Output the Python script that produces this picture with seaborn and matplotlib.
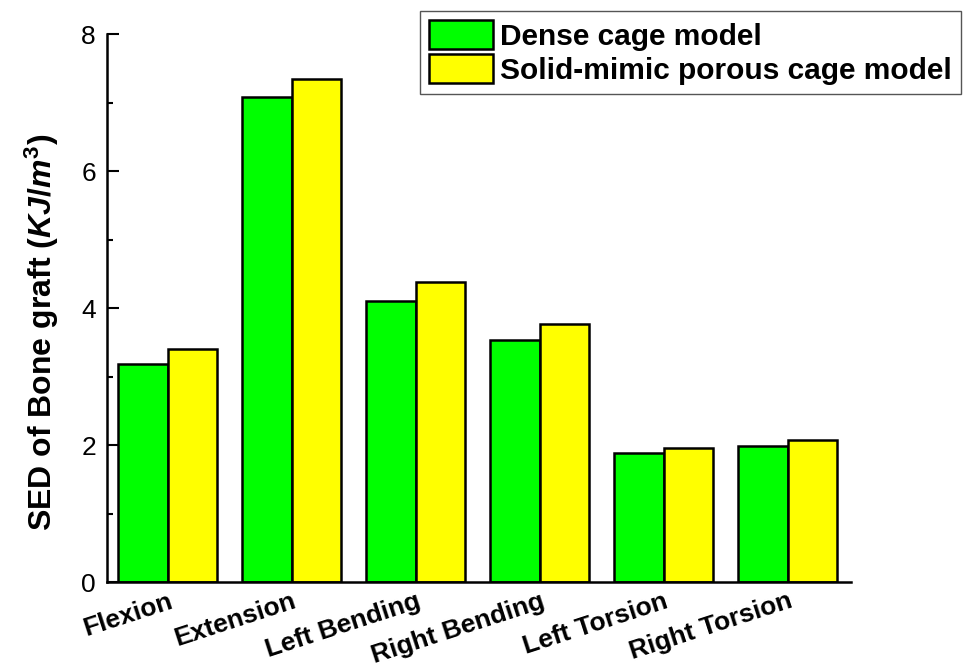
import numpy as np
import pandas as pd
import seaborn as sns
import matplotlib.pyplot as plt
from matplotlib.ticker import MultipleLocator

# values
motions = ['Flexion', 'Extension', 'Left Bending', 'Right Bending', 'Left Torsion', 'Right Torsion']
dense = [3.18, 7.08, 4.10, 3.54, 1.89, 1.99]
porous = [3.40, 7.34, 4.38, 3.76, 1.95, 2.07]
models = ['Dense cage model', 'Solid-mimic porous cage model']

df = pd.DataFrame({
    'motion': motions * 2,
    'sed': dense + porous,
    'model': [models[0]] * len(motions) + [models[1]] * len(motions),
})

sns.set_style('ticks')
plt.rcParams['font.family'] = ['Liberation Sans', 'DejaVu Sans']
plt.rcParams['text.color'] = 'black'
plt.rcParams['axes.labelcolor'] = 'black'
plt.rcParams['xtick.color'] = 'black'
plt.rcParams['ytick.color'] = 'black'
plt.rcParams['mathtext.fontset'] = 'custom'
plt.rcParams['mathtext.rm'] = 'Liberation Sans:bold'
plt.rcParams['mathtext.it'] = 'Liberation Sans:italic:bold'
plt.rcParams['mathtext.bf'] = 'Liberation Sans:bold'

fig = plt.figure(figsize=(9.67, 6.67), dpi=100)
ax = fig.add_axes([0.1107, 0.1274, 0.7694, 0.8216])

sns.barplot(data=df, x='motion', y='sed', hue='model', order=motions, hue_order=models,
            palette=['#00ff00', '#ffff00'], saturation=1, edgecolor='black', linewidth=1.8,
            width=0.8, ax=ax)

ax.set_xlim(-0.49, 5.51)
ax.set_ylim(0, 8)
ax.yaxis.set_major_locator(MultipleLocator(2))
ax.yaxis.set_minor_locator(MultipleLocator(1))
ax.tick_params(axis='y', which='major', direction='in', length=8.5, width=1.5, labelsize=19, pad=8)
ax.tick_params(axis='y', which='minor', direction='in', length=4.5, width=1.5)
ax.tick_params(axis='x', length=0, pad=5)
for lab in ax.get_xticklabels():
    lab.set_rotation(18)
    lab.set_ha('right')
    lab.set_rotation_mode('anchor')
    lab.set_fontweight('bold')
    lab.set_fontsize(19)

sns.despine(ax=ax)
for s in ['left', 'bottom']:
    ax.spines[s].set_linewidth(1.8)
    ax.spines[s].set_color('black')

ax.set_xlabel('')
ax.set_ylabel(r'SED of Bone graft ($KJ/m^3$)', fontsize=23, fontweight='bold')
ax.yaxis.set_label_coords(-0.062, 0.455)

ax.legend(loc='upper right', bbox_to_anchor=(961 / 967, 1 - 11 / 667),
          bbox_transform=fig.transFigure, frameon=True, fancybox=False,
          edgecolor='#555555', framealpha=1, prop={'weight': 'bold', 'size': 21.5},
          handlelength=2.15, handleheight=1.12, handletextpad=0.25,
          labelspacing=0.12, borderpad=0.3, borderaxespad=0)

fig.savefig('out.png', dpi=100)
